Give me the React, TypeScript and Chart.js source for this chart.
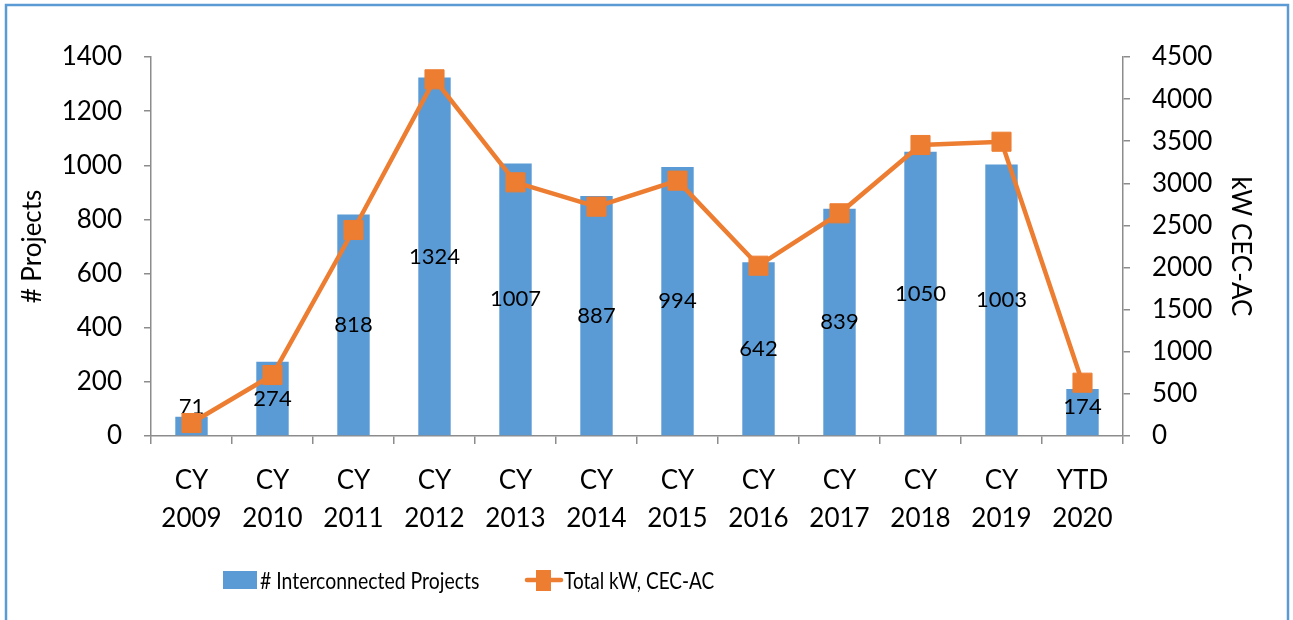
import React, { useEffect, useRef } from "react";
import { Chart, registerables } from "chart.js";

Chart.register(...registerables);

const categories: string[][] = [
  ["CY", "2009"], ["CY", "2010"], ["CY", "2011"], ["CY", "2012"],
  ["CY", "2013"], ["CY", "2014"], ["CY", "2015"], ["CY", "2016"],
  ["CY", "2017"], ["CY", "2018"], ["CY", "2019"], ["YTD", "2020"],
];
const projects: number[] = [71, 274, 818, 1324, 1007, 887, 994, 642, 839, 1050, 1003, 174];
const totalKW: number[] = [154, 724, 2446, 4235, 3012, 2723, 3032, 2022, 2644, 3455, 3494, 633];

const barLabel = "# Interconnected Projects";
const lineLabel = "Total kW, CEC-AC";
const leftTitle = "# Projects";
const rightTitle = "kW CEC-AC";

const BLUE = "#5B9BD5";
const ORANGE = "#ED7D31";
const AXIS = "#8C8C8C";
const FONT = "Lato";

const W = 1293;
const H = 620;
const TOP = 57;
const BOTTOM = 436;
const LEFT = 151;
const RIGHT = 1123;

const framePlugin = {
  id: "frame",
  beforeDraw(chart: any) {
    const ctx = chart.ctx;
    ctx.save();
    ctx.fillStyle = "#ffffff";
    ctx.fillRect(0, 0, W, H);
    ctx.strokeStyle = BLUE;
    ctx.lineWidth = 2.5;
    ctx.beginPath();
    ctx.moveTo(6, H);
    ctx.lineTo(6, 5);
    ctx.lineTo(1288, 5);
    ctx.lineTo(1288, H);
    ctx.stroke();
    ctx.restore();
  },
};

const barLabelsPlugin = {
  id: "barLabels",
  afterDatasetDraw(chart: any, args: any) {
    if (args.index !== 0) return;
    const ctx = chart.ctx;
    const meta = chart.getDatasetMeta(0);
    ctx.save();
    ctx.font = `22px ${FONT}`;
    ctx.fillStyle = "#000000";
    ctx.textAlign = "center";
    ctx.textBaseline = "middle";
    meta.data.forEach((bar: any, i: number) => {
      const center = (bar.y + bar.base) / 2;
      const y = Math.min(center, bar.base - 28);
      ctx.fillText(String(projects[i]), bar.x, y);
    });
    ctx.restore();
  },
};

function drawSqueezed(ctx: any, text: string, x: number, y: number, sx: number) {
  ctx.save();
  ctx.translate(x, y);
  ctx.scale(sx, 1);
  ctx.fillText(text, 0, 0);
  ctx.restore();
}

const legendPlugin = {
  id: "customLegend",
  afterDraw(chart: any) {
    const ctx = chart.ctx;
    const cy = 581;
    ctx.save();
    ctx.fillStyle = BLUE;
    ctx.fillRect(223, 571, 34, 18);
    ctx.font = `24px ${FONT}`;
    ctx.fillStyle = "#000000";
    ctx.textAlign = "left";
    ctx.textBaseline = "middle";
    drawSqueezed(ctx, barLabel, 260, cy, 0.81);
    ctx.strokeStyle = ORANGE;
    ctx.lineWidth = 4.5;
    ctx.lineCap = "round";
    ctx.beginPath();
    ctx.moveTo(527, 580);
    ctx.lineTo(561, 580);
    ctx.stroke();
    ctx.fillStyle = ORANGE;
    ctx.fillRect(536, 570, 15, 21);
    ctx.fillStyle = "#000000";
    drawSqueezed(ctx, lineLabel, 564, cy, 0.79);
    ctx.restore();
  },
};

const plainTick = (v: any) => String(v);

export default function App() {
  const ref = useRef<HTMLCanvasElement | null>(null);

  useEffect(() => {
    if (!ref.current) return;
    const tickFont = { family: FONT, size: 26, lineHeight: 1.46 };
    const chart = new Chart(ref.current, {
      type: "bar",
      data: {
        labels: categories as any,
        datasets: [
          {
            type: "bar",
            label: barLabel,
            data: projects,
            backgroundColor: BLUE,
            barPercentage: 0.4,
            categoryPercentage: 1,
            yAxisID: "y",
            order: 1,
          },
          {
            type: "line",
            label: lineLabel,
            data: totalKW,
            borderColor: ORANGE,
            backgroundColor: ORANGE,
            borderWidth: 4.5,
            pointStyle: "rect",
            pointRadius: 13.5,
            pointBorderWidth: 1,
            pointBorderColor: ORANGE,
            pointBackgroundColor: ORANGE,
            tension: 0,
            yAxisID: "y1",
            order: 0,
          } as any,
        ],
      },
      options: {
        responsive: false,
        animation: false,
        maintainAspectRatio: false,
        layout: { padding: { top: TOP, left: 0, right: 0, bottom: 0 } },
        plugins: {
          legend: { display: false },
          tooltip: { enabled: false },
          title: { display: false },
        },
        scales: {
          x: {
            offset: true,
            grid: {
              offset: true,
              drawOnChartArea: false,
              drawTicks: true,
              tickLength: 8,
              color: AXIS,
              lineWidth: 1.5,
            },
            border: { display: true, color: AXIS, width: 1.5 },
            ticks: {
              color: "#000000",
              font: tickFont,
              padding: 18,
              maxRotation: 0,
              minRotation: 0,
              autoSkip: false,
            },
            afterFit(scale: any) {
              scale.height = H - BOTTOM;
            },
          },
          y: {
            position: "left",
            min: 0,
            max: 1400,
            ticks: {
              stepSize: 200,
              color: "#000000",
              font: { family: FONT, size: 26 },
              padding: 22,
              callback: plainTick,
            },
            grid: {
              drawOnChartArea: false,
              drawTicks: true,
              tickLength: 7,
              color: AXIS,
              lineWidth: 1.5,
            },
            border: { display: true, color: AXIS, width: 1.5 },
            title: {
              display: true,
              text: leftTitle,
              color: "#000000",
              font: { family: FONT, size: 26 },
              padding: { top: 17, bottom: 0 },
            },
            afterFit(scale: any) {
              scale.width = LEFT;
            },
          },
          y1: {
            position: "right",
            min: 0,
            max: 4500,
            ticks: {
              stepSize: 500,
              color: "#000000",
              font: { family: FONT, size: 26 },
              padding: 22,
              callback: plainTick,
            },
            grid: {
              drawOnChartArea: false,
              drawTicks: true,
              tickLength: 7,
              color: AXIS,
              lineWidth: 1.5,
            },
            border: { display: true, color: AXIS, width: 1.5 },
            title: {
              display: true,
              text: rightTitle,
              color: "#000000",
              font: { family: FONT, size: 26 },
              padding: { top: 37, bottom: 0 },
            },
            afterFit(scale: any) {
              scale.width = W - RIGHT;
            },
          },
        },
      },
      plugins: [framePlugin, barLabelsPlugin, legendPlugin],
    });
    return () => chart.destroy();
  }, []);

  return (
    <div style={{ position: "fixed", left: 0, top: 0, width: W, height: H, background: "#fff" }}>
      <canvas ref={ref} width={W} height={H} style={{ display: "block", width: W, height: H }} />
    </div>
  );
}
